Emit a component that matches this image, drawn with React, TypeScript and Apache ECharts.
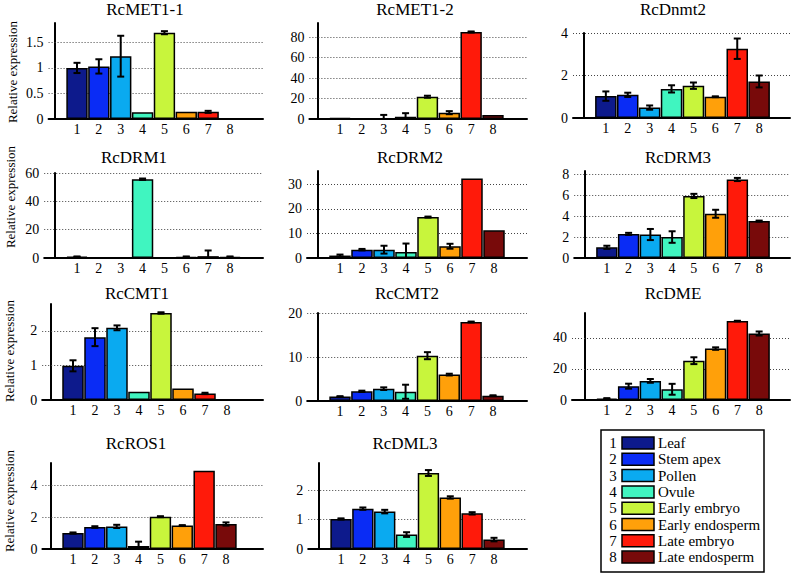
import { useEffect, useRef } from 'react';
import * as echarts from 'echarts';

// ---------- data ----------
const stageLabels = [1, 2, 3, 4, 5, 6, 7, 8];
const tissueNames = ['Leaf', 'Stem apex', 'Pollen', 'Ovule', 'Early embryo', 'Early endosperm', 'Late embryo', 'Late endosperm'];
const tissueColors = ['#0d1a8c', '#0a2cf5', '#0aaaf0', '#40f5c0', '#c8f53c', '#ffa00a', '#ff1a0a', '#780a0a'];

const geneNames = ['RcMET1-1', 'RcMET1-2', 'RcDnmt2', 'RcDRM1', 'RcDRM2', 'RcDRM3', 'RcCMT1', 'RcCMT2', 'RcDME', 'RcROS1', 'RcDML3'];

const met11Values = [1.0, 1.03, 1.23, 0.13, 1.69, 0.14, 0.14, 0.005];
const met11Errors = [0.1, 0.14, 0.4, 0, 0.03, 0, 0.02, 0];
const met12Values = [1.0, 0.6, 0.5, 2.2, 21.8, 6.2, 85.2, 4.0];
const met12Errors = [0, 0, 3.5, 3.5, 1, 1.5, 0.5, 0];
const dnmt2Values = [1.03, 1.09, 0.49, 1.37, 1.52, 1.0, 3.26, 1.72];
const dnmt2Errors = [0.22, 0.1, 0.1, 0.17, 0.15, 0.02, 0.48, 0.28];
const drm1Values = [0.9, 0.3, 0.5, 55.6, 0.5, 0.8, 1.3, 0.8];
const drm1Errors = [0.2, 0, 0, 0.5, 0, 0.3, 4.0, 0.3];
const drm2Values = [1.0, 3.4, 3.4, 2.4, 16.7, 4.8, 32.4, 11.3];
const drm2Errors = [0.4, 0.3, 1.6, 3.5, 0.2, 1.0, 0, 0];
const drm3Values = [1.02, 2.3, 2.24, 2.0, 5.92, 4.22, 7.49, 3.52];
const drm3Errors = [0.15, 0.1, 0.53, 0.55, 0.2, 0.38, 0.15, 0.05];
const cmt1Values = [0.99, 1.82, 2.09, 0.24, 2.52, 0.33, 0.19, 0.02];
const cmt1Errors = [0.16, 0.26, 0.07, 0, 0.02, 0, 0.02, 0];
const cmt2Values = [1.0, 2.2, 2.8, 2.1, 10.3, 6.0, 17.95, 1.2];
const cmt2Errors = [0.1, 0.15, 0.3, 1.6, 0.8, 0.2, 0.1, 0.1];
const dmeValues = [0.9, 8.9, 12.3, 6.9, 25.3, 33.1, 50.8, 42.8];
const dmeErrors = [0.3, 1.6, 1.2, 3.5, 2.2, 0.8, 0.2, 1.3];
const ros1Values = [1.0, 1.38, 1.42, 0.19, 2.03, 1.47, 4.92, 1.57];
const ros1Errors = [0.04, 0.05, 0.1, 0.27, 0.03, 0.03, 0, 0.1];
const dml3Values = [1.02, 1.37, 1.27, 0.49, 2.58, 1.75, 1.21, 0.32];
const dml3Errors = [0.02, 0.04, 0.06, 0.08, 0.1, 0.04, 0.04, 0.06];

const allValues = [met11Values, met12Values, dnmt2Values, drm1Values, drm2Values, drm3Values, cmt1Values, cmt2Values, dmeValues, ros1Values, dml3Values];
const allErrors = [met11Errors, met12Errors, dnmt2Errors, drm1Errors, drm2Errors, drm3Errors, cmt1Errors, cmt2Errors, dmeErrors, ros1Errors, dml3Errors];

const yAxisMax = [1.88, 94, 4, 60, 35.5, 8.3, 2.78, 20, 56, 5.4, 2.92];
const yTickStep = [0.5, 20, 2, 20, 10, 2, 1, 10, 20, 2, 1];

const yAxisTitle = 'Relative expression';

// ---------- layout (pixels) ----------
// [axisX, topY, zeroY, label1X, label8X, rightX]
const panelLayout = [
  [48, 23, 119, 77, 230, 263],
  [309, 23, 119, 340, 493, 527],
  [574, 33, 118, 606, 760, 791],
  [45, 173, 258, 77, 230, 263],
  [308, 171, 258, 340, 494, 527],
  [574, 171, 258, 607, 760, 791],
  [43, 304, 400, 73, 227, 263],
  [308, 313, 401, 340, 493, 527],
  [573, 313, 400, 607, 760, 791],
  [43, 463, 549, 73, 226, 263],
  [309, 463, 549, 341, 494, 527],
];
const titlePos = [[145, 9], [415, 9], [673, 9], [134, 157], [410, 157], [678, 157], [137, 293], [407, 293], [673, 293], [136, 443], [405, 443]];
const yTitlePos = [[12, 72], [10, 197], [9, 351], [9, 501]];

const FONT = 'Liberation Serif';

export default function App() {
  const ref = useRef<HTMLDivElement>(null);

  useEffect(() => {
    if (!ref.current) return;
    const chart = echarts.init(ref.current, undefined, { renderer: 'svg' });

    const grids: any[] = [];
    const xAxes: any[] = [];
    const yAxes: any[] = [];
    const series: any[] = [];
    const graphics: any[] = [];

    panelLayout.forEach((lay, p) => {
      const [axisX, topY, zeroY, lab1, lab8, rightX] = lay;
      const sp = (lab8 - lab1) / 7;
      const xmin = Math.round((1 - (lab1 - axisX) / sp) * 10) / 10;
      const left = lab1 - (1 - xmin) * sp;
      const xmax = 8 + (rightX - lab8) / sp;
      const width = (xmax - xmin) * sp;
      grids.push({ left, top: topY, width, height: zeroY - topY, containLabel: false });

      xAxes.push({
        type: 'value',
        gridIndex: p,
        min: xmin,
        max: xmax,
        interval: 0.1,
        axisLine: { show: true, onZero: false, lineStyle: { color: '#000', width: 2 } },
        axisTick: { show: false },
        splitLine: { show: false },
        axisLabel: {
          show: true,
          margin: 3,
          color: '#000',
          fontFamily: FONT,
          fontSize: 14,
          formatter: (v: number) => {
            const r = Math.round(v);
            return Math.abs(v - r) < 1e-6 && stageLabels.includes(r) ? String(r) : '';
          },
        },
      });

      const step = yTickStep[p];
      const ymax = yAxisMax[p];
      const ticks: number[] = [];
      for (let t = step; t <= ymax + 1e-9; t += step) ticks.push(Math.round(t * 1000) / 1000);

      yAxes.push({
        type: 'value',
        gridIndex: p,
        min: 0,
        max: ymax,
        interval: step,
        axisLine: { show: true, lineStyle: { color: '#000', width: 2 } },
        axisTick: { show: false },
        splitLine: { show: false },
        axisLabel: {
          margin: 5,
          color: '#000',
          fontFamily: FONT,
          fontSize: 14,
          formatter: (v: number) => {
            const k = v / step;
            return Math.abs(k - Math.round(k)) < 1e-6 ? String(Math.round(v * 1000) / 1000) : '';
          },
        },
      });

      const vals = allValues[p];
      const errs = allErrors[p];

      series.push({
        type: 'bar',
        xAxisIndex: p,
        yAxisIndex: p,
        barWidth: sp - 0.5,
        z: 2,
        data: vals.map((v, i) => ({
          value: [stageLabels[i], v],
          itemStyle: { color: tissueColors[i], borderColor: '#000', borderWidth: 1.5 },
        })),
        markLine: {
          silent: true,
          symbol: 'none',
          z: 1,
          label: { show: false },
          lineStyle: { type: [1, 2], color: '#444', width: 1 },
          data: ticks.map((t) => ({ yAxis: t })),
        },
      });

      series.push({
        type: 'custom',
        xAxisIndex: p,
        yAxisIndex: p,
        z: 4,
        encode: { x: 0, y: 1 },
        data: vals.map((v, i) => [stageLabels[i], v, errs[i]]),
        renderItem: (params: any, api: any) => {
          const x = api.value(0);
          const v = api.value(1);
          const e = api.value(2);
          if (!e) return { type: 'group', children: [] };
          const hi = api.coord([x, v + e]);
          const lo = api.coord([x, Math.max(0, v - e)]);
          const cap = 3.5;
          const st = { stroke: '#000', lineWidth: 2 };
          return {
            type: 'group',
            children: [
              { type: 'line', shape: { x1: hi[0], y1: hi[1], x2: lo[0], y2: lo[1] }, style: st },
              { type: 'line', shape: { x1: hi[0] - cap, y1: hi[1], x2: hi[0] + cap, y2: hi[1] }, style: st },
              { type: 'line', shape: { x1: lo[0] - cap, y1: lo[1], x2: lo[0] + cap, y2: lo[1] }, style: st },
            ],
          };
        },
      });

      graphics.push({
        type: 'text',
        x: titlePos[p][0],
        y: titlePos[p][1],
        style: { text: geneNames[p], fill: '#000', fontFamily: FONT, fontSize: 17, textAlign: 'center', textVerticalAlign: 'middle' },
      });
    });

    yTitlePos.forEach(([x, y]) => {
      graphics.push({
        type: 'text',
        x,
        y,
        rotation: Math.PI / 2,
        style: { text: yAxisTitle, fill: '#000', fontFamily: FONT, fontSize: 13, textAlign: 'center', textVerticalAlign: 'middle' },
      });
    });

    // legend box
    graphics.push({
      type: 'rect',
      shape: { x: 601, y: 430, width: 163, height: 142 },
      style: { fill: '#fff', stroke: '#000', lineWidth: 1.5 },
      z: 10,
    });
    tissueNames.forEach((name, i) => {
      const cy = 443 + i * 16.3;
      graphics.push({
        type: 'text',
        x: 613,
        y: cy,
        z: 11,
        style: { text: String(stageLabels[i]), fill: '#000', fontFamily: FONT, fontSize: 15, textAlign: 'center', textVerticalAlign: 'middle' },
      });
      graphics.push({
        type: 'rect',
        z: 11,
        shape: { x: 622, y: cy - 6, width: 32, height: 12 },
        style: { fill: tissueColors[i], stroke: '#000', lineWidth: 1.5 },
      });
      graphics.push({
        type: 'text',
        x: 658,
        y: cy,
        z: 11,
        style: { text: name, fill: '#000', fontFamily: FONT, fontSize: 15, textAlign: 'left', textVerticalAlign: 'middle' },
      });
    });

    chart.setOption({
      animation: false,
      backgroundColor: '#fff',
      textStyle: { fontFamily: FONT },
      grid: grids,
      xAxis: xAxes,
      yAxis: yAxes,
      series,
      graphic: graphics,
    });

    return () => chart.dispose();
  }, []);

  return <div ref={ref} style={{ position: 'fixed', left: 0, top: 0, width: 793, height: 574 }} />;
}
